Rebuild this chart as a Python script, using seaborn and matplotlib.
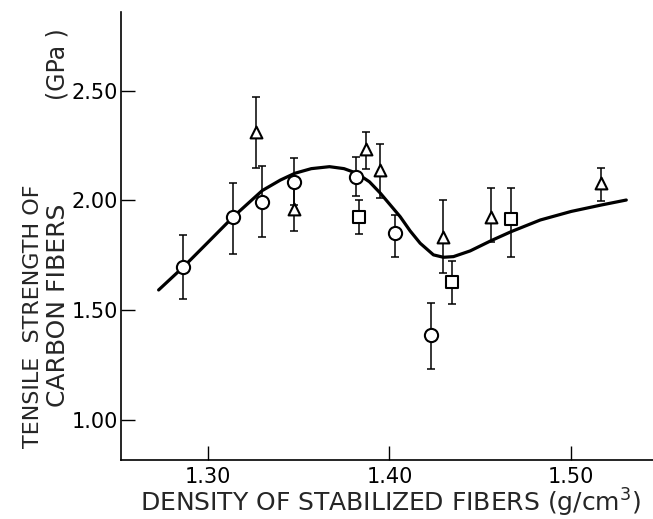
import numpy as np
import pandas as pd
import seaborn as sns
import matplotlib.pyplot as plt

# open circles
circle_x = [1.2866, 1.3138, 1.3301, 1.3475, 1.3815, 1.4033, 1.4228]
circle_y = [1.698, 1.923, 1.992, 2.086, 2.109, 1.850, 1.387]
circle_lo = [1.550, 1.756, 1.832, 1.980, 2.020, 1.741, 1.232]
circle_hi = [1.843, 2.078, 2.159, 2.192, 2.200, 1.934, 1.531]

# open triangles
triangle_x = [1.3266, 1.3475, 1.3870, 1.3949, 1.4297, 1.4560, 1.5164]
triangle_y = [2.314, 1.960, 2.233, 2.139, 1.835, 1.926, 2.081]
triangle_lo = [2.147, 1.861, 2.144, 2.013, 1.668, 1.809, 1.998]
triangle_hi = [2.473, 2.060, 2.311, 2.258, 2.002, 2.058, 2.150]

# open squares
square_x = [1.3833, 1.4345, 1.4670]
square_y = [1.926, 1.627, 1.914]
square_lo = [1.847, 1.530, 1.744]
square_hi = [2.002, 1.726, 2.058]

# fitted curve
curve_x = [1.273, 1.287, 1.300, 1.314, 1.330, 1.340, 1.348, 1.357, 1.367, 1.375,
           1.382, 1.389, 1.395, 1.4059, 1.4114, 1.4169, 1.4242, 1.4297, 1.4352,
           1.4444, 1.456, 1.467, 1.483, 1.500, 1.5164, 1.5303]
curve_y = [1.592, 1.700, 1.808, 1.925, 2.045, 2.093, 2.124, 2.145, 2.154, 2.145,
           2.124, 2.085, 2.033, 1.926, 1.861, 1.805, 1.752, 1.741, 1.744,
           1.770, 1.817, 1.858, 1.911, 1.950, 1.979, 2.002]

x_ticks = [1.30, 1.40, 1.50]
y_ticks = [1.00, 1.50, 2.00, 2.50]

sns.set_style("ticks")
plt.rcParams['font.family'] = ['DejaVu Sans']

fig = plt.figure(figsize=(6.53, 5.19), dpi=100)
ax = fig.add_axes([121 / 653, 59 / 519, 532 / 653, 448 / 519])

curve = pd.DataFrame({"x": curve_x, "y": curve_y})
sns.lineplot(data=curve, x="x", y="y", ax=ax, color="black", linewidth=2.3,
             sort=False, estimator=None)

groups = [
    (circle_x, circle_y, circle_lo, circle_hi, "o", 9.5),
    (triangle_x, triangle_y, triangle_lo, triangle_hi, "^", 8.5),
    (square_x, square_y, square_lo, square_hi, "s", 8),
]
for xs, ys, lo, hi, mk, ms in groups:
    ys = np.array(ys)
    yerr = [ys - np.array(lo), np.array(hi) - ys]
    ax.errorbar(xs, ys, yerr=yerr, fmt="none", ecolor="black", elinewidth=1.1,
                capsize=3, capthick=1.1, zorder=3)
    pts = pd.DataFrame({"x": xs, "y": ys})
    sns.scatterplot(data=pts, x="x", y="y", ax=ax, marker=mk, s=ms ** 2,
                    facecolor="white", edgecolor="black", linewidth=1.5,
                    zorder=4)

ax.set_xlim(1.2523, 1.545)
ax.set_ylim(0.817, 2.859)
ax.set_xticks(x_ticks)
ax.set_xticklabels(["1.30", "1.40", "1.50"])
ax.set_yticks(y_ticks)
ax.set_yticklabels(["1.00", "1.50", "2.00", "2.50"])
ax.tick_params(direction="in", length=10, width=1, labelsize=15, colors="black")
ax.tick_params(axis="x", pad=5)
ax.tick_params(axis="y", pad=2)
ax.set_xlabel("")
ax.set_ylabel("")
sns.despine(ax=ax)
for s in ["left", "bottom"]:
    ax.spines[s].set_linewidth(1.2)
    ax.spines[s].set_color("black")

fig.text(390 / 653, 1 - 503 / 519, "DENSITY OF STABILIZED FIBERS (g/cm$^3$)",
         ha="center", va="center", fontsize=18)
fig.text(33 / 653, 1 - 448 / 519, "TENSILE  STRENGTH OF", rotation=90,
         ha="center", va="bottom", fontsize=16)
fig.text(58 / 653, 1 - 407 / 519, "CARBON FIBERS", rotation=90,
         ha="center", va="bottom", fontsize=18)
fig.text(58 / 653, 1 - 28 / 519, "(GPa )", rotation=90,
         ha="center", va="top", fontsize=17)

fig.savefig("out.png", dpi=100)
